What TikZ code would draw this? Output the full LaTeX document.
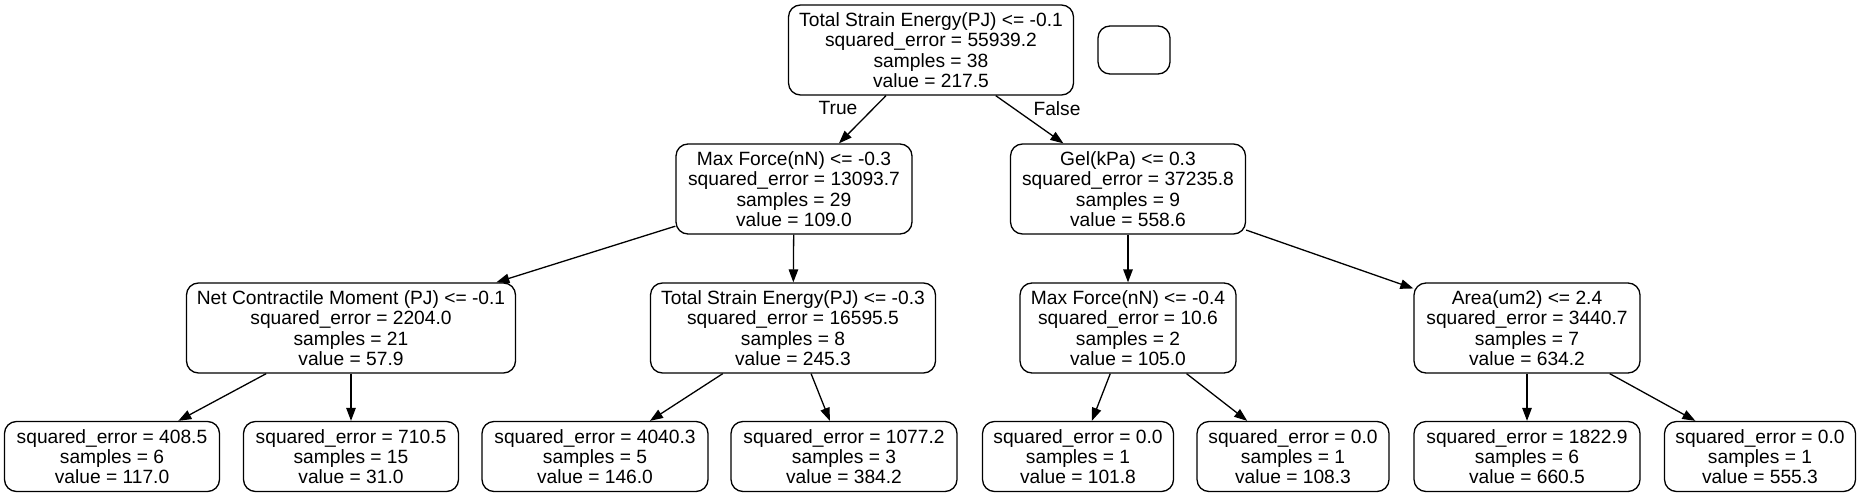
\documentclass[tikz,border=0pt]{standalone}
\usepackage{fontspec}
\setmainfont{Liberation Sans}
\usetikzlibrary{arrows.meta}
\tikzset{
  tnode/.style={draw, line width=1.3pt, rounded corners=12pt, align=center, inner sep=0pt,
    font=\fontsize{19.2}{20.3}\selectfont},
  lvl/.style={tnode, minimum height=90pt},
  leaf/.style={tnode, minimum height=70pt},
  edge/.style={line width=1.3pt, -{Triangle[length=13pt,width=9.5pt]}},
  elabel/.style={font=\fontsize{19.2}{20.3}\selectfont, inner sep=0pt}
}
\begin{document}
\begin{tikzpicture}[x=1pt,y=-1pt]
\useasboundingbox (0,0) rectangle (1862,497);
% level 0
\node[lvl, minimum width=285pt] (root) at (931,50) {Total Strain Energy(PJ) <= -0.1\\squared\_error = 55939.2\\samples = 38\\value = 217.5};
\node[tnode, minimum width=72pt, minimum height=48pt] (empty) at (1134,50) {};
% level 1
\node[lvl, minimum width=236pt] (mf1) at (794,189) {Max Force(nN) <= -0.3\\squared\_error = 13093.7\\samples = 29\\value = 109.0};
\node[lvl, minimum width=235pt] (gel) at (1128,189) {Gel(kPa) <= 0.3\\squared\_error = 37235.8\\samples = 9\\value = 558.6};
% level 2
\node[lvl, minimum width=329pt] (ncm) at (351,328) {Net Contractile Moment (PJ) <= -0.1\\squared\_error = 2204.0\\samples = 21\\value = 57.9};
\node[lvl, minimum width=285pt] (tse) at (793,328) {Total Strain Energy(PJ) <= -0.3\\squared\_error = 16595.5\\samples = 8\\value = 245.3};
\node[lvl, minimum width=216pt] (mf2) at (1128,328) {Max Force(nN) <= -0.4\\squared\_error = 10.6\\samples = 2\\value = 105.0};
\node[lvl, minimum width=226pt] (area) at (1527,328) {Area(um2) <= 2.4\\squared\_error = 3440.7\\samples = 7\\value = 634.2};
% level 3
\node[leaf, minimum width=215pt] (l1) at (112,456.5) {squared\_error = 408.5\\samples = 6\\value = 117.0};
\node[leaf, minimum width=215pt] (l2) at (351,456.5) {squared\_error = 710.5\\samples = 15\\value = 31.0};
\node[leaf, minimum width=226pt] (l3) at (595,456.5) {squared\_error = 4040.3\\samples = 5\\value = 146.0};
\node[leaf, minimum width=226pt] (l4) at (844,456.5) {squared\_error = 1077.2\\samples = 3\\value = 384.2};
\node[leaf, minimum width=191pt] (l5) at (1078,456.5) {squared\_error = 0.0\\samples = 1\\value = 101.8};
\node[leaf, minimum width=192pt] (l6) at (1293,456.5) {squared\_error = 0.0\\samples = 1\\value = 108.3};
\node[leaf, minimum width=226pt] (l7) at (1527,456.5) {squared\_error = 1822.9\\samples = 6\\value = 660.5};
\node[leaf, minimum width=191pt] (l8) at (1760,456.5) {squared\_error = 0.0\\samples = 1\\value = 555.3};
% edges
\draw[edge] (root) -- (mf1);
\draw[edge] (root) -- (gel);
\draw[edge] (mf1) -- (ncm);
\draw[edge] (mf1) -- (tse);
\draw[edge] (gel) -- (mf2);
\draw[edge] (gel) -- (area);
\draw[edge] (ncm) -- (l1);
\draw[edge] (ncm) -- (l2);
\draw[edge] (tse) -- (l3);
\draw[edge] (tse) -- (l4);
\draw[edge] (mf2) -- (l5);
\draw[edge] (mf2) -- (l6);
\draw[edge] (area) -- (l7);
\draw[edge] (area) -- (l8);
% edge labels
\node[elabel] (tlab) at (838,108) {True};
\node[elabel] (flab) at (1057,109) {False};
\end{tikzpicture}
\end{document}
